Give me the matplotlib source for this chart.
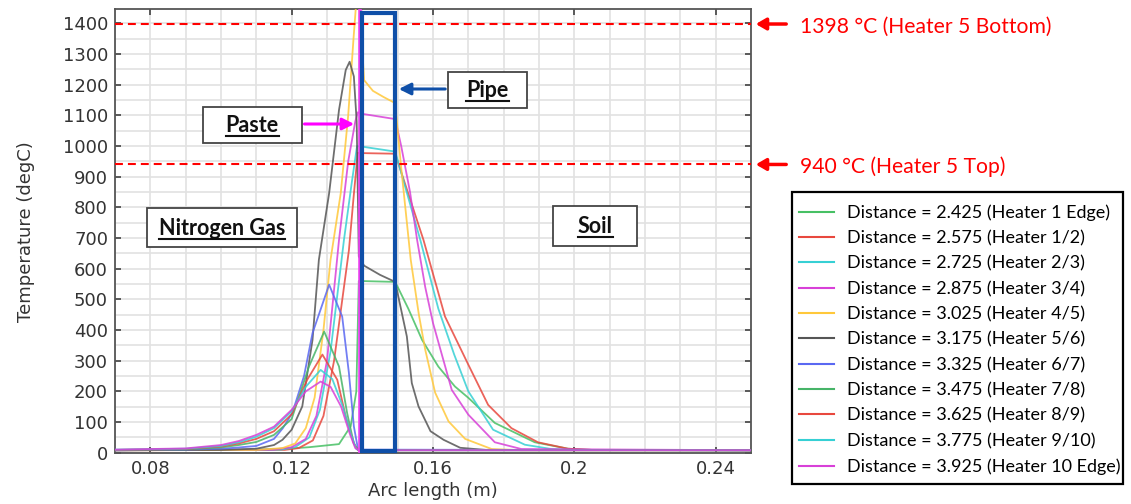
import matplotlib
matplotlib.use("Agg")
import matplotlib.pyplot as plt
import matplotlib.transforms as mtransforms
from matplotlib.patches import Rectangle, FancyArrowPatch
from matplotlib.lines import Line2D
from matplotlib.ticker import MultipleLocator

# ---------------- data ----------------
labels = [
    "Distance = 2.425 (Heater 1 Edge)",
    "Distance = 2.575 (Heater 1/2)",
    "Distance = 2.725 (Heater 2/3)",
    "Distance = 2.875 (Heater 3/4)",
    "Distance = 3.025 (Heater 4/5)",
    "Distance = 3.175 (Heater 5/6)",
    "Distance = 3.325 (Heater 6/7)",
    "Distance = 3.475 (Heater 7/8)",
    "Distance = 3.625 (Heater 8/9)",
    "Distance = 3.775 (Heater 9/10)",
    "Distance = 3.925 (Heater 10 Edge)",
]
colors = ["#47c064", "#e8483e", "#36d0d4", "#d840d8", "#ffc83a", "#555555",
          "#5a68f2", "#47b468", "#e8483e", "#36d0d4", "#d840d8"]

x1 = [0.07, 0.11, 0.12, 0.125, 0.1334, 0.1367, 0.1383, 0.1390, 0.1493, 0.1530, 0.1569, 0.1615, 0.1662, 0.1700, 0.1775, 0.1888, 0.1982, 0.205, 0.25]
y1 = [8, 10, 14, 18, 28, 86, 200, 560, 557, 470, 368, 281, 216, 179, 97, 34, 13, 9, 8]

x2 = [0.07, 0.118, 0.122, 0.126, 0.129, 0.132, 0.1362, 0.1375, 0.1387, 0.1400, 0.1493, 0.1573, 0.1634, 0.1700, 0.1756, 0.1822, 0.1897, 0.1982, 0.205, 0.25]
y2 = [8, 9, 15, 40, 120, 300, 660, 830, 978, 977, 975, 694, 444, 287, 156, 80, 34, 13, 9, 8]

x3 = [0.07, 0.117, 0.121, 0.125, 0.128, 0.131, 0.1348, 0.1370, 0.1385, 0.1400, 0.1493, 0.1564, 0.1615, 0.1660, 0.1700, 0.1770, 0.1860, 0.1935, 0.20, 0.25]
y3 = [8, 10, 18, 50, 140, 330, 694, 880, 1000, 998, 982, 694, 470, 320, 200, 75, 26, 12, 9, 8]

x4 = [0.07, 0.115, 0.120, 0.124, 0.127, 0.130, 0.1334, 0.1360, 0.1380, 0.1387, 0.1400, 0.1493, 0.1510, 0.1535, 0.1555, 0.1578, 0.1600, 0.1653, 0.1700, 0.1775, 0.185, 0.25]
y4 = [8, 10, 18, 45, 120, 300, 694, 950, 1080, 1110, 1105, 1088, 1000, 850, 694, 540, 423, 205, 124, 34, 12, 8]

x5 = [0.07, 0.11, 0.1174, 0.121, 0.124, 0.1265, 0.1290, 0.1310, 0.1339, 0.1360, 0.1375, 0.1388, 0.1405, 0.1430, 0.1460, 0.1493, 0.1509, 0.1537, 0.1560, 0.1578, 0.1606, 0.1644, 0.1691, 0.1766, 0.185, 0.25]
y5 = [8, 9, 15, 30, 80, 180, 400, 629, 847, 1100, 1350, 1550, 1215, 1180, 1160, 1140, 940, 629, 450, 336, 196, 102, 45, 12, 8, 8]

x6 = [0.07, 0.10, 0.11, 0.115, 0.1174, 0.120, 0.123, 0.1259, 0.1277, 0.1306, 0.1334, 0.1353, 0.1364, 0.1376, 0.1384, 0.1390, 0.1405, 0.1450, 0.1493, 0.1526, 0.1540, 0.1559, 0.1593, 0.1630, 0.1677, 0.175, 0.25]
y6 = [8, 9, 13, 25, 42, 75, 151, 368, 629, 846, 1118, 1248, 1275, 1227, 1080, 640, 610, 580, 557, 379, 227, 151, 70, 42, 16, 9, 8]

x7 = [0.07, 0.09, 0.10, 0.105, 0.11, 0.115, 0.1175, 0.1202, 0.1235, 0.1259, 0.1306, 0.1343, 0.1362, 0.1376, 0.1388, 0.25]
y7 = [8, 10, 13, 17, 22, 45, 80, 130, 250, 390, 548, 444, 260, 86, 10, 8]

x8 = [0.07, 0.09, 0.10, 0.105, 0.11, 0.115, 0.12, 0.1249, 0.1292, 0.1334, 0.1357, 0.1376, 0.1388, 0.25]
y8 = [9, 11, 17, 25, 35, 58, 110, 281, 395, 281, 129, 30, 8, 8]

x9 = [0.07, 0.09, 0.10, 0.105, 0.11, 0.115, 0.12, 0.1244, 0.1287, 0.1329, 0.1353, 0.1376, 0.1388, 0.25]
y9 = [9, 12, 20, 30, 45, 70, 125, 238, 320, 238, 118, 30, 8, 8]

x10 = [0.07, 0.09, 0.10, 0.105, 0.11, 0.115, 0.12, 0.124, 0.1282, 0.1315, 0.1345, 0.1368, 0.1383, 0.139, 0.25]
y10 = [10, 13, 22, 34, 52, 80, 135, 215, 270, 240, 150, 60, 12, 8, 8]

x11 = [0.07, 0.09, 0.10, 0.105, 0.11, 0.115, 0.12, 0.124, 0.1282, 0.1310, 0.1340, 0.1365, 0.1380, 0.1390, 0.25]
y11 = [10, 14, 25, 38, 58, 85, 140, 200, 232, 215, 150, 60, 15, 8, 8]

series_x = [x1, x2, x3, x4, x5, x6, x7, x8, x9, x10, x11]
series_y = [y1, y2, y3, y4, y5, y6, y7, y8, y9, y10, y11]

heater_levels = [1398, 940]
heater_texts = ["1398 \u00b0C (Heater 5 Bottom)", "940 \u00b0C (Heater 5 Top)"]
paste_x = 0.1392
pipe_x0, pipe_x1 = 0.1400, 0.1492
pipe_y0, pipe_y1 = 6, 1435

# ---------------- figure ----------------
W, H = 1131, 504
fig = plt.figure(figsize=(W / 100, H / 100), dpi=100)
fig.patch.set_facecolor("white")

def fx(px):
    return px / W

def fy(py):
    return 1 - py / H

ax = fig.add_axes([fx(115), fy(453), fx(751) - fx(115), fy(9.3) - fy(453)])
ax.set_xlim(0.07, 0.25)
ax.set_ylim(-1, 1446)

ax.xaxis.set_minor_locator(MultipleLocator(0.01))
ax.yaxis.set_major_locator(MultipleLocator(100))
ax.yaxis.set_minor_locator(MultipleLocator(50))
ax.set_xticks([0.08, 0.12, 0.16, 0.2, 0.24])
ax.set_xticklabels(["0.08", "0.12", "0.16", "0.2", "0.24"])
ax.grid(True, which="both", color="#e2e2e2", lw=1.2, zorder=0)
ax.set_axisbelow(True)
ax.tick_params(which="major", direction="in", length=4.5, width=1.1, color="#333333",
               top=True, right=True, labelsize=13, labelcolor="#333333", pad=5)
ax.tick_params(which="minor", length=0)
for s in ax.spines.values():
    s.set_color("#555555")
    s.set_linewidth(1.3)

lines = []
for xs, ys, c, lab in zip(series_x, series_y, colors, labels):
    ln, = ax.plot(xs, ys, color=c, lw=1.3, alpha=0.85, label=lab, zorder=3)
    lines.append(ln)

ax.set_xlabel("Arc length (m)", fontsize=13, color="#333333", labelpad=3)
ax.set_ylabel("Temperature (degC)", fontsize=13, color="#333333", labelpad=20)

# heater level lines
for lv in heater_levels:
    ax.axhline(lv, color="#ff0000", lw=1.5, ls=(0, (3.8, 2.4)), zorder=4)

# paste stripe and pipe box
ax.axvline(paste_x, color="#f040f0", lw=2.6, zorder=5)
ax.add_patch(Rectangle((pipe_x0, pipe_y0), pipe_x1 - pipe_x0, pipe_y1 - pipe_y0,
                       fill=False, ec="#0f4fa8", lw=3.0, zorder=6, clip_on=False))

# right-hand red arrows and labels
btr = mtransforms.blended_transform_factory(fig.transFigure, ax.transData)
for lv, txt in zip(heater_levels, heater_texts):
    fig.add_artist(FancyArrowPatch((fx(789), lv), (fx(753), lv), transform=btr,
                                   arrowstyle="-|>,head_length=6,head_width=3.5",
                                   color="#ff0000", lw=2.5, mutation_scale=1))
    fig.text(fx(800), lv - 8, txt, transform=btr, color="#ff0000", fontsize=15.2,
             family="Lato", va="center", ha="left")

# annotation boxes
boxes = [
    ("Paste", 202.7, 106.7, 301.7, 143.3, 131.7),
    ("Pipe", 448, 71.7, 527, 108, 96.7),
    ("Nitrogen Gas", 146.7, 208, 297, 247, 235),
    ("Soil", 553, 206, 637, 246, 233),
]
texts = []
for t, x0, y0, x1_, y1_, base in boxes:
    fig.add_artist(Rectangle((fx(x0), fy(y1_)), fx(x1_) - fx(x0), fy(y0) - fy(y1_),
                             transform=fig.transFigure, fc="white", ec="#444444",
                             lw=1.3, zorder=7))
    tt = fig.text(fx((x0 + x1_) / 2), fy(base), t, fontsize=15.5, family="Lato",
                  weight="bold", ha="center", va="baseline", zorder=8, color="#111111")
    texts.append((tt, base))

# arrows from boxes
fig.add_artist(FancyArrowPatch((fx(301.7), fy(124)), (fx(357), fy(124)),
                               transform=fig.transFigure,
                               arrowstyle="-|>,head_length=7,head_width=3.5",
                               color="#ff00ff", lw=2.2, mutation_scale=1, zorder=9))
fig.add_artist(FancyArrowPatch((fx(448), fy(89)), (fx(396), fy(89)),
                               transform=fig.transFigure,
                               arrowstyle="-|>,head_length=7,head_width=3.5",
                               color="#0f4fa8", lw=2.2, mutation_scale=1, zorder=9))

# legend (frame drawn separately)
fig.add_artist(Rectangle((fx(791.7), fy(484)), fx(1123.3) - fx(791.7), fy(191.7) - fy(484),
                         transform=fig.transFigure, fill=False, ec="black", lw=1.6))
leg = fig.legend(handles=lines, labels=labels, loc="upper left",
                 bbox_to_anchor=(fx(799), fy(204.5)), bbox_transform=fig.transFigure,
                 prop={"family": "Lato", "size": 13}, frameon=False,
                 handlelength=1.94, handletextpad=0.72,
                 labelspacing=0.51, borderpad=0, borderaxespad=0)
for lh in leg.get_lines():
    lh.set_alpha(1.0)
    lh.set_linewidth(1.5)

# underlines
fig.canvas.draw()
r = fig.canvas.get_renderer()
for tt, base in texts:
    bb = tt.get_window_extent(r)
    yline = H - (base + 4.3)
    fig.add_artist(Line2D([bb.x0, bb.x1], [yline, yline],
                          transform=mtransforms.IdentityTransform(),
                          color="#111111", lw=1.5, zorder=9))

fig.savefig("out.png", dpi=100)
